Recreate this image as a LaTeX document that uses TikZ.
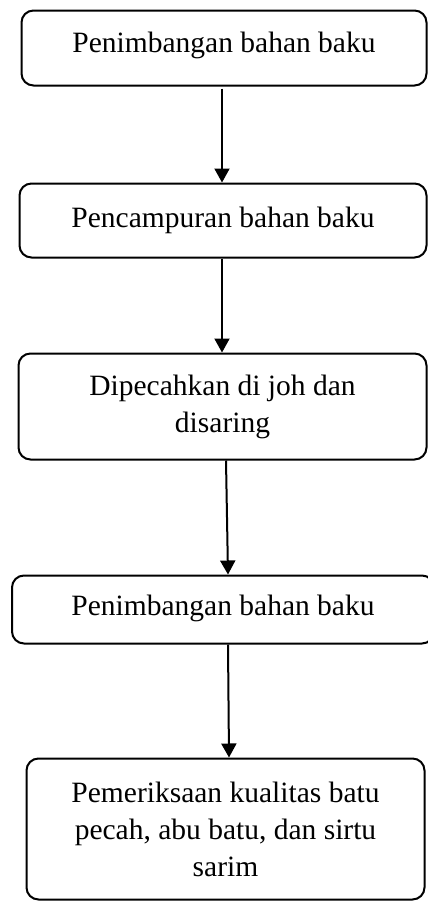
\documentclass[tikz,border=0pt]{standalone}
\usepackage{fontspec}
\setmainfont{Liberation Serif}
\usetikzlibrary{arrows.meta}
\begin{document}
\begin{tikzpicture}[x=1pt,y=-1pt,
  box/.style={draw, line width=2pt, rounded corners=12pt, inner sep=0pt,
    align=center, font=\fontsize{29.5}{37}\selectfont},
  arr/.style={line width=2pt, -{Triangle[width=15pt,length=14pt]}}]
\useasboundingbox (0,0) rectangle (428,902);
\node[box, minimum width=405pt, minimum height=75pt] (b1) at (224,48)
  {\raisebox{3pt}[\height][\depth]{Penimbangan bahan baku}};
\node[box, minimum width=407pt, minimum height=74pt] (b2) at (223,220.5)
  {Pencampuran bahan baku};
\node[box, minimum width=408pt, minimum height=106pt] (b3) at (222.5,406.5)
  {Dipecahkan di joh dan\\disaring};
\node[box, minimum width=422pt, minimum height=68pt] (b4) at (223,609.5)
  {\raisebox{1pt}[\height][\depth]{Penimbangan bahan baku}};
\node[box, minimum width=398pt, minimum height=141pt] (b5) at (225.5,829)
  {Pemeriksaan kualitas batu\\pecah, abu batu, dan sirtu\\sarim};
\draw[arr] ([xshift=-2pt,yshift=-2pt]b1.south) -- ([xshift=-1pt]b2.north);
\draw[arr] ([xshift=-1pt]b2.south) -- ([xshift=-0.5pt]b3.north);
\draw[arr] ([xshift=3.5pt]b3.south) -- ([xshift=5pt]b4.north);
\draw[arr] ([xshift=5pt]b4.south) -- ([xshift=3.5pt]b5.north);
\end{tikzpicture}
\end{document}
